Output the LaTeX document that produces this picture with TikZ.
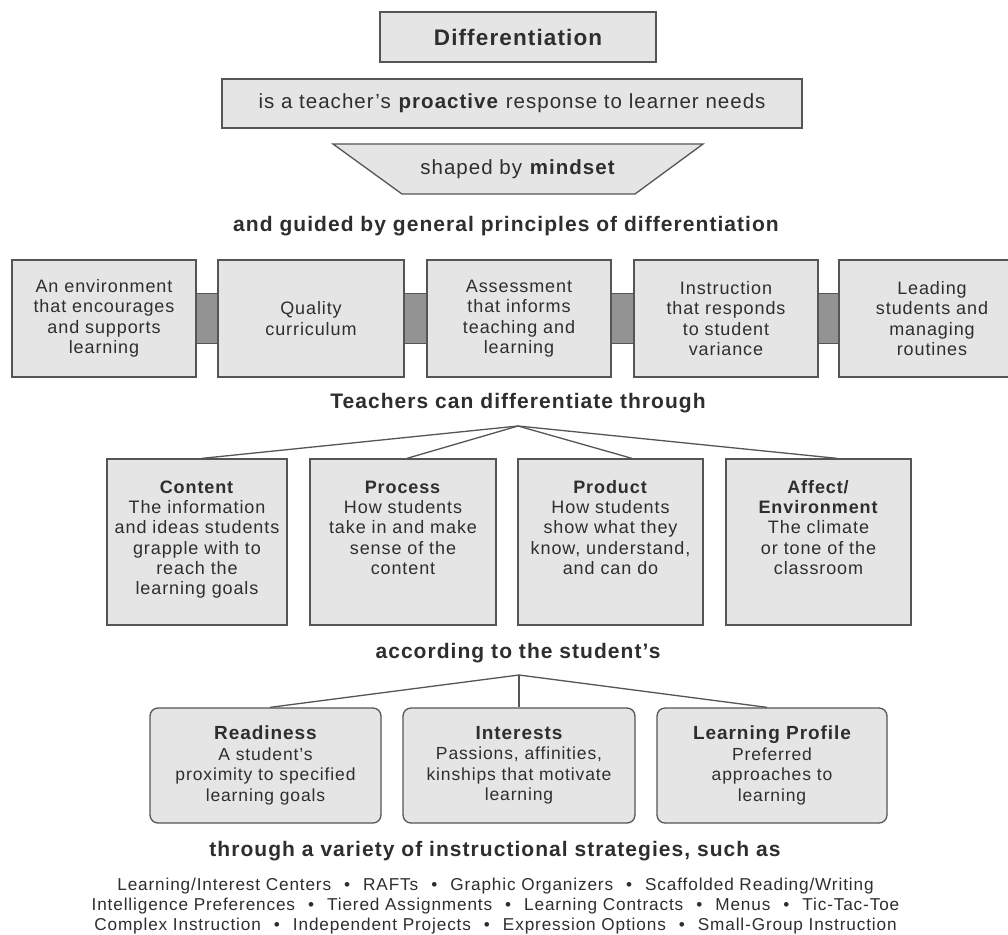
\documentclass[tikz,border=0pt]{standalone}
\usepackage{fontspec}
\setmainfont{Liberation Sans}[LetterSpace=5]
\usetikzlibrary{calc}
\definecolor{boxfill}{HTML}{E5E5E5}
\definecolor{boxline}{HTML}{555555}
\definecolor{linkfill}{HTML}{939393}
\definecolor{txt}{HTML}{2E2E2E}
\newcommand{\sepb}{\hspace{13pt}\textbullet\hspace{13pt}}
\newcommand{\topbox}[2]{\parbox[c][166pt][t]{#1}{\centering\rule{0pt}{34.5pt}#2}}
\tikzset{
  box/.style={draw=boxline, line width=1.3pt, fill=boxfill, inner sep=0pt, text=txt, align=center},
  head/.style={font=\fontsize{21}{24}\selectfont\bfseries, text=txt, inner sep=0pt},
  pbox/.style={box, minimum height=117pt, font=\fontsize{18}{20.5}\selectfont},
  dbox/.style={box, font=\fontsize{18}{20.2}\selectfont},
  rbox/.style={box, rounded corners=8pt, minimum height=115pt, font=\fontsize{17.5}{20.5}\selectfont},
  conn/.style={draw=boxline, line width=1.3pt},
  link/.style={fill=linkfill, draw=boxline, line width=1pt}
}
\begin{document}
\begin{tikzpicture}[x=1pt,y=-1pt]
\clip (0,0) rectangle (1008,934);
\fill[white] (0,0) rectangle (1008,934);

% top
\node[box, minimum width=276pt, minimum height=50pt, font=\fontsize{22.5}{26}\selectfont\bfseries] (diff) at (518,37) {Differentiation};
\node[box, minimum width=580pt, minimum height=49pt, font=\fontsize{20.5}{24}\selectfont] (resp) at (512,103.5) {is a teacher’s \textbf{proactive} response to learner needs};
\filldraw[fill=boxfill, draw=boxline, line width=1.3pt] (333,144) -- (703,144) -- (635,194) -- (402,194) -- cycle;
\node[inner sep=0pt, text=txt, font=\fontsize{20.5}{24}\selectfont] (mind) at (518,169) {shaped by \textbf{mindset}};

\node[head] (guided) at (506,226) {and guided by general principles of differentiation};

% principles
\node[pbox, minimum width=184pt] (p1) at (104,318.5) {An environment\\that encourages\\and supports\\learning};
\node[pbox, minimum width=186pt] (p2) at (311,318.5) {Quality\\curriculum};
\node[pbox, minimum width=184pt] (p3) at (519,318.5) {Assessment\\that informs\\teaching and\\learning};
\node[pbox, minimum width=184pt] (p4) at (726,318.5) {Instruction\\that responds\\to student\\variance};
\node[pbox, minimum width=186pt] (p5) at (932,318.5) {Leading\\students and\\managing\\routines};
\foreach \a/\b in {p1/p2,p2/p3,p3/p4,p4/p5}{
  \path[link] ($(\a.east)+(0,-25.5)$) rectangle ($(\b.west)+(0,24.5)$);
}

% differentiate through
\node[head] (teach) at (518,403) {Teachers can differentiate through};
\coordinate (apex1) at (518,426);
\node[dbox] (content) at (197,542) {\topbox{180pt}{\textbf{Content}\\The information\\and ideas students\\grapple with to\\reach the\\learning goals}};
\node[dbox] (process) at (403,542) {\topbox{186pt}{\textbf{Process}\\How students\\take in and make\\sense of the\\content}};
\node[dbox] (product) at (610.5,542) {\topbox{185pt}{\textbf{Product}\\How students\\show what they\\know, understand,\\and can do}};
\node[dbox] (affect) at (818.5,542) {\topbox{185pt}{\textbf{Affect/}\\\textbf{Environment}\\The climate\\or tone of the\\classroom}};
\draw[conn] (apex1) -- ([xshift=5pt]content.north);
\draw[conn] (apex1) -- ([xshift=4pt]process.north);
\draw[conn] (apex1) -- ([xshift=21.5pt]product.north);
\draw[conn] (apex1) -- ([xshift=18.5pt]affect.north);

% according to
\node[head] (accord) at (518,653) {according to the student’s};
\coordinate (apex2) at (519,675);
\node[rbox, minimum width=231pt] (ready) at (265.5,765.5) {{\fontsize{19}{20.5}\selectfont\bfseries Readiness}\\A student’s\\proximity to specified\\learning goals};
\node[rbox, minimum width=232pt] (inter) at (519,765.5) {{\fontsize{19}{20.5}\selectfont\bfseries Interests}\\Passions, affinities,\\kinships that motivate\\learning};
\node[rbox, minimum width=230pt] (profile) at (772,765.5) {{\fontsize{19}{20.5}\selectfont\bfseries Learning Profile}\\Preferred\\approaches to\\learning};
\draw[conn] (apex2) -- ([xshift=4.5pt]ready.north);
\draw[conn] (apex2) -- (inter.north);
\draw[conn] (apex2) -- ([xshift=-5pt]profile.north);

% strategies
\node[head] (variety) at (495,851.5) {through a variety of instructional strategies, such as};
\node[inner sep=0pt, align=center, text=txt, font=\fontsize{17.2}{20}\selectfont] (strat) at (495.5,906) {Learning/Interest Centers\sepb RAFTs\sepb Graphic Organizers\sepb Scaffolded Reading/Writing\\Intelligence Preferences\sepb Tiered Assignments\sepb Learning Contracts\sepb Menus\sepb Tic-Tac-Toe\\Complex Instruction\sepb Independent Projects\sepb Expression Options\sepb Small-Group Instruction};
\end{tikzpicture}
\end{document}
